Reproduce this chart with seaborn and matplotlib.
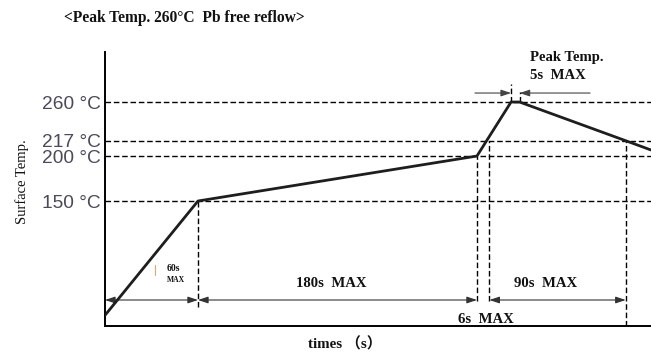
import matplotlib
matplotlib.use("Agg")
import matplotlib.pyplot as plt
import seaborn as sns
import pandas as pd

# ---- data ----
profile_time = [0, 60, 240, 262, 267.5, 336, 352.3]
profile_temp = [23, 150, 200, 260, 260, 217, 206.7]
level_temps = [150, 200, 217, 260]
level_labels = ["150 °C", "200 °C", "217 °C", "260 °C"]
phase_bounds = [(0, 60), (60, 240), (248, 336)]
phase_labels = ["", "180s  MAX", "90s  MAX"]
peak_window = (262, 267.5)

sns.set_style("white")
SERIF = ["Liberation Serif", "Noto Sans CJK SC"]

fig = plt.figure(figsize=(6.51, 3.56), dpi=100)
ax = fig.add_axes([105/651, 30/356, 546/651, 274/356])

df = pd.DataFrame({"t": profile_time, "T": profile_temp})
sns.lineplot(data=df, x="t", y="T", ax=ax, color="#1e1e1e", lw=2.0,
             sort=False, estimator=None, zorder=5)

ax.set_xlim(0, 352.3)
ax.set_ylim(11.1, 315.6)
ax.set_xlabel("")
ax.set_ylabel("")
ax.set_xticks([])
ax.set_yticks(level_temps)
ax.set_yticklabels(level_labels, family="Liberation Sans", fontsize=13.8,
                   color="#4a4a58")
ax.tick_params(axis="y", length=0, pad=3)
for s in ["top", "right"]:
    ax.spines[s].set_visible(False)
for s in ["left", "bottom"]:
    ax.spines[s].set_color("black")
    ax.spines[s].set_linewidth(1.4)

dash = dict(color="black", lw=1.0, linestyle=(0, (4, 2)), zorder=3)
for T in level_temps:
    ax.axhline(T, **dash)

# vertical dashed guides
ax.vlines(60, 32, 150, **dash)
ax.vlines(240, 39, 200, **dash)
ax.vlines(248, 39, 217, **dash)
ax.vlines(336, 11.1, 217, **dash)
ax.vlines(peak_window[0], 260, 280, **dash)
ax.vlines(peak_window[1], 260, 271, **dash)

# horizontal dimension arrows
arr = dict(arrowstyle="<|-|>,head_length=0.6,head_width=0.2", color="#333333",
           lw=0.8, shrinkA=0, shrinkB=0, mutation_scale=10)
y_arr = 40
for (a, b) in phase_bounds:
    ax.annotate("", xy=(b, y_arr), xytext=(a, y_arr), arrowprops=arr)

arr1 = dict(arrowstyle="-|>,head_length=0.6,head_width=0.2", color="#444444",
            lw=0.8, shrinkA=0, shrinkB=0, mutation_scale=10)
ax.annotate("", xy=(peak_window[0], 270), xytext=(238.7, 270), arrowprops=arr1)
ax.annotate("", xy=(peak_window[1], 270), xytext=(313, 270), arrowprops=arr1)

# texts
bold = dict(family=SERIF, fontweight="bold", color="#111111")
ax.text(146, 57.8, phase_labels[1], ha="center", va="center", fontsize=10.6, **bold)
ax.text(284.5, 57.8, phase_labels[2], ha="center", va="center", fontsize=10.6, **bold)
ax.text(246, 18.5, "6s  MAX", ha="center", va="center", fontsize=10.6, **bold)
ax.text(40, 75.5, "60s", ha="left", va="center", fontsize=7, **bold)
ax.text(40, 62.5, "MAX", ha="left", va="center", fontsize=5.5, **bold)
ax.plot([32, 32], [68, 79], color="#d9a877", lw=0.8)
ax.text(274, 310, "Peak Temp.", ha="left", va="center", fontsize=10.6, **bold)
ax.text(274, 290, "5s  MAX", ha="left", va="center", fontsize=10.6, **bold)

fig.text(184/651, 1 - 18/356, "<Peak Temp. 260°C  Pb free reflow>",
         ha="center", va="center", fontsize=11.2, **bold)
fig.text(22/651, 1 - 182/356, "Surface Temp.", rotation=90, ha="center",
         va="center", fontsize=10.5, family=SERIF, color="#111111")
fig.text(345/651, 1 - 344/356, "times （s）", ha="center", va="center",
         fontsize=10.8, **bold)

fig.savefig("out.png", dpi=100)
